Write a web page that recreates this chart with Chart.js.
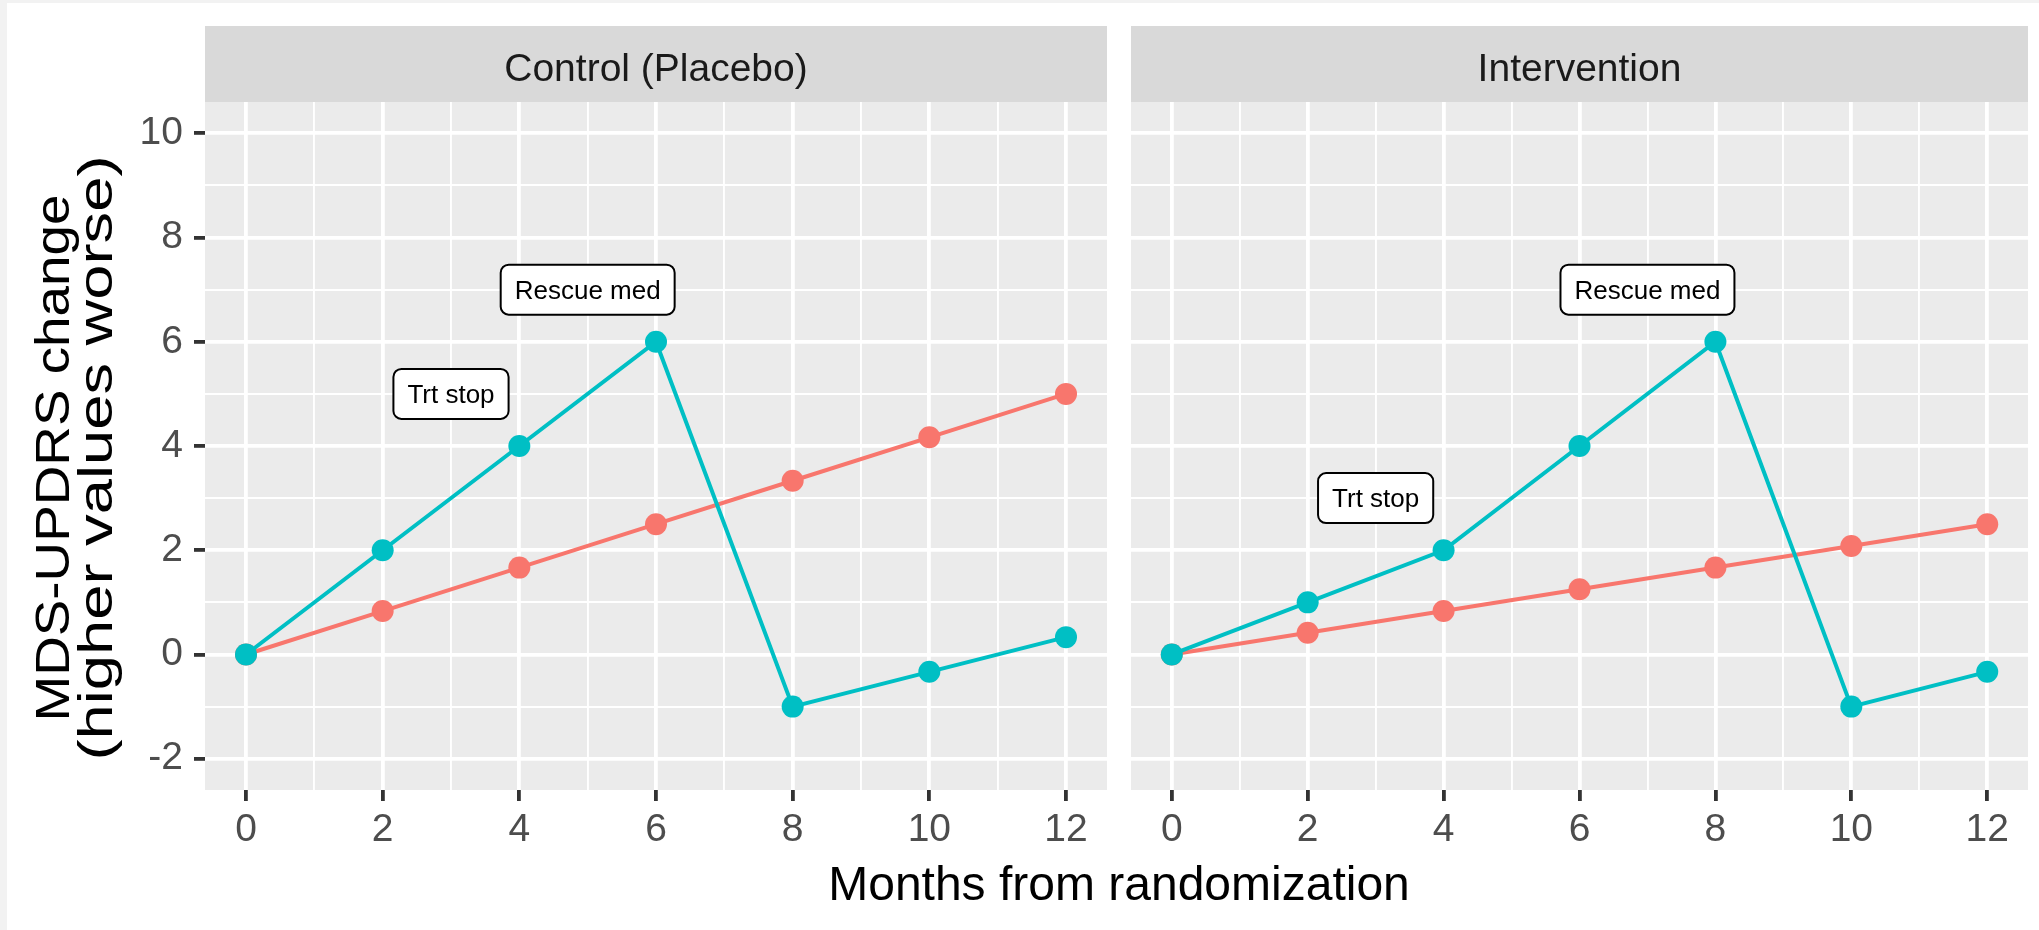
<!DOCTYPE html>
<html><head><meta charset="utf-8">
<script src="https://cdn.jsdelivr.net/npm/chart.js@4.4.0/dist/chart.umd.min.js"></script>
<style>
html,body{margin:0;padding:0;background:#f2f2f2;width:2039px;height:930px;overflow:hidden}
#sheet{position:absolute;left:7px;top:3px;width:2032px;height:927px;background:#ffffff}
canvas{position:absolute;left:0;top:0}
</style></head><body>
<div id="sheet"></div>
<canvas id="cA" width="2039" height="930"></canvas>
<canvas id="cB" width="2039" height="930"></canvas>
<script>
// ---- data ----
const months = [0, 2, 4, 6, 8, 10, 12];
const controlRed = [0, 0.833, 1.667, 2.5, 3.333, 4.167, 5];
const controlTeal = [0, 2, 4, 6, -1, -0.333, 0.333];
const interventionRed = [0, 0.417, 0.833, 1.25, 1.667, 2.083, 2.5];
const interventionTeal = [0, 1, 2, 4, 6, -1, -0.333];
const panelTitles = ['Control (Placebo)', 'Intervention'];
const xTickValues = [0,1,2,3,4,5,6,7,8,9,10,11,12];
const yTickValues = [-2,-1,0,1,2,3,4,5,6,7,8,9,10];
const noteTexts = ['Trt stop', 'Rescue med'];
const controlNoteX = [3, 5];
const controlNoteY = [5, 7];
const interventionNoteX = [3, 7];
const interventionNoteY = [3, 7];
const xTitle = 'Months from randomization';
const yTitle = ['MDS-UPDRS change', '(higher values worse)'];

const FONT = '"Liberation Sans", Arial, Helvetica, sans-serif';
const RED = '#F8766D', TEAL = '#00BFC4';

function isMajor(v){ return Math.abs(v % 2) < 1e-9; }

function gridOpts(showTicks){
  return {
    color: ctx => '#ffffff',
    lineWidth: ctx => (ctx.tick && isMajor(ctx.tick.value)) ? 3.8 : 1.9,
    tickColor: ctx => (showTicks && ctx.tick && isMajor(ctx.tick.value)) ? '#333333' : 'rgba(0,0,0,0)',
    tickWidth: 3.8,
    tickLength: 11,
    drawTicks: showTicks,
    drawOnChartArea: true
  };
}

function xScale(){
  return {
    type: 'linear', min: -0.6, max: 12.6,
    afterBuildTicks: s => { s.ticks = xTickValues.map(v => ({value: v})); },
    afterFit: s => { s.height = 140; },
    grid: gridOpts(true),
    border: {display: false},
    ticks: {
      autoSkip: false, maxRotation: 0,
      callback: v => isMajor(v) ? String(v) : '',
      color: '#4d4d4d', padding: 6,
      font: {family: FONT, size: 39, lineHeight: 1.2}
    }
  };
}

function yScale(show){
  return {
    type: 'linear', min: -2.6, max: 10.6, display: true,
    afterBuildTicks: s => { s.ticks = yTickValues.map(v => ({value: v})); },
    afterFit: s => { s.width = show ? 205 : 0; },
    grid: gridOpts(show),
    border: {display: false},
    ticks: {
      autoSkip: false,
      display: show,
      callback: v => isMajor(v) ? String(v) : '',
      color: '#4d4d4d', padding: 11,
      font: {family: FONT, size: 39, lineHeight: 1.2}
    },
    title: {display: false}
  };
}

function drawYTitle(ctx){
  const lineX = [52, 95];
  const lineLen = [527, 605];
  const cy = 458;
  ctx.save();
  ctx.font = '48px ' + FONT;
  ctx.fillStyle = '#000000';
  ctx.textAlign = 'center';
  ctx.textBaseline = 'alphabetic';
  yTitle.forEach((t, i) => {
    const w = ctx.measureText(t).width;
    ctx.save();
    ctx.translate(lineX[i], cy);
    ctx.rotate(-Math.PI / 2);
    ctx.scale(lineLen[i] / w, 1);
    ctx.fillText(t, 0, 0.358 * 48);
    ctx.restore();
  });
  ctx.restore();
}

function panelPlugin(title, noteX, noteY, isFirst){
  return {
    id: 'panel',
    beforeDraw(chart){
      const {ctx, chartArea: a} = chart;
      ctx.save();
      ctx.fillStyle = '#ebebeb';
      ctx.fillRect(a.left, a.top, a.right - a.left, a.bottom - a.top);
      ctx.fillStyle = '#d9d9d9';
      ctx.fillRect(a.left, 26, a.right - a.left, a.top - 26);
      ctx.fillStyle = '#1a1a1a';
      ctx.font = '39px ' + FONT;
      ctx.textAlign = 'center';
      ctx.textBaseline = 'alphabetic';
      ctx.fillText(title, (a.left + a.right) / 2, 67 + 0.358 * 39);
      ctx.restore();
    },
    afterDatasetsDraw(chart){
      const ctx = chart.ctx, xs = chart.scales.x, ys = chart.scales.y;
      ctx.save();
      ctx.font = '26px ' + FONT;
      noteTexts.forEach((t, i) => {
        const cx = xs.getPixelForValue(noteX[i]);
        const cy = ys.getPixelForValue(noteY[i]);
        const w = ctx.measureText(t).width + 28, h = 50, r = 8;
        const x0 = cx - w / 2, y0 = cy - h / 2;
        ctx.beginPath();
        ctx.moveTo(x0 + r, y0);
        ctx.lineTo(x0 + w - r, y0);
        ctx.arcTo(x0 + w, y0, x0 + w, y0 + r, r);
        ctx.lineTo(x0 + w, y0 + h - r);
        ctx.arcTo(x0 + w, y0 + h, x0 + w - r, y0 + h, r);
        ctx.lineTo(x0 + r, y0 + h);
        ctx.arcTo(x0, y0 + h, x0, y0 + h - r, r);
        ctx.lineTo(x0, y0 + r);
        ctx.arcTo(x0, y0, x0 + r, y0, r);
        ctx.closePath();
        ctx.fillStyle = '#ffffff';
        ctx.fill();
        ctx.lineWidth = 2;
        ctx.strokeStyle = '#000000';
        ctx.stroke();
        ctx.fillStyle = '#000000';
        ctx.textAlign = 'center';
        ctx.textBaseline = 'alphabetic';
        ctx.fillText(t, cx, cy + 0.358 * 26);
      });
      ctx.restore();
    },
    afterDraw(chart){
      if (!isFirst) return;
      const ctx = chart.ctx;
      ctx.save();
      ctx.font = '48px ' + FONT;
      ctx.fillStyle = '#000000';
      ctx.textAlign = 'center';
      ctx.textBaseline = 'alphabetic';
      ctx.fillText(xTitle, (205 + 2033) / 2, 883 + 0.358 * 48);
      ctx.restore();
      drawYTitle(ctx);
    }
  };
}

function ds(label, ys, color){
  return {
    label, data: months.map((m, i) => ({x: m, y: ys[i]})),
    borderColor: color, backgroundColor: color,
    borderWidth: 4, pointRadius: 11, pointHoverRadius: 11,
    pointBorderWidth: 0, tension: 0, fill: false
  };
}

function makeChart(id, title, red, teal, noteX, noteY, padding, first){
  return new Chart(document.getElementById(id), {
    type: 'line',
    data: {datasets: [ds('Series B', teal, TEAL), ds('Series A', red, RED)]},
    options: {
      responsive: false, animation: false, devicePixelRatio: 1,
      layout: {padding},
      plugins: {legend: {display: false}, tooltip: {enabled: false}},
      scales: {x: xScale(), y: yScale(first)}
    },
    plugins: [panelPlugin(title, noteX, noteY, first)]
  });
}

makeChart('cA', panelTitles[0], controlRed, controlTeal, controlNoteX, controlNoteY,
  {left: 0, top: 102, right: 932, bottom: 0}, true);
makeChart('cB', panelTitles[1], interventionRed, interventionTeal, interventionNoteX, interventionNoteY,
  {left: 1131, top: 102, right: 6, bottom: 0}, false);
</script>
</body></html>
